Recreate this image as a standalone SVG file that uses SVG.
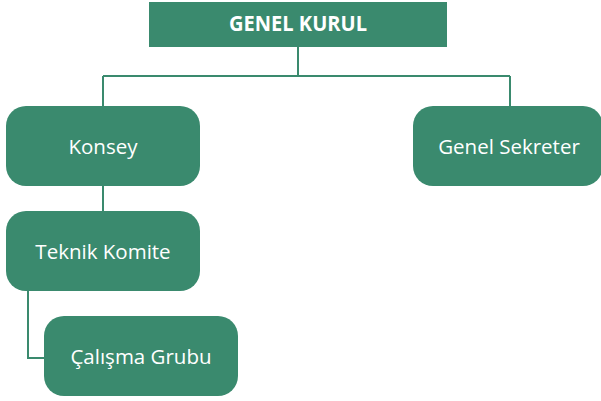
<svg xmlns="http://www.w3.org/2000/svg" width="601" height="401" viewBox="0 0 601 401">
<style>
.box{fill:#3a8a6e}
.lbl{fill:#fff;font-family:"Open Sans","Noto Sans",sans-serif;font-size:20.5px;text-anchor:middle;dominant-baseline:central}
.hdr{font-weight:bold;font-size:22px}
.conn{fill:none;stroke:#3a8a6e;stroke-width:2}
</style>
<rect width="601" height="401" fill="#fff"/>
<g id="connectors">
<path class="conn" d="M298,47 V76 M103,76 H510 M103,76 V106 M510,76 V106 M103,186 V211 M28,291 V358 H44"/>
</g>
<g id="genel-kurul">
<rect class="box" x="149" y="2" width="298" height="45"/>
<text class="lbl hdr" x="298" y="22" textLength="138" lengthAdjust="spacingAndGlyphs">GENEL KURUL</text>
</g>
<g id="konsey">
<rect class="box" x="6" y="106" width="194" height="80" rx="20"/>
<text class="lbl" x="103" y="146">Konsey</text>
</g>
<g id="genel-sekreter">
<rect class="box" x="413" y="106" width="190" height="80" rx="20"/>
<text class="lbl" x="509" y="146">Genel Sekreter</text>
</g>
<g id="teknik-komite">
<rect class="box" x="6" y="211" width="194" height="80" rx="20"/>
<text class="lbl" x="103" y="251">Teknik Komite</text>
</g>
<g id="calisma-grubu">
<rect class="box" x="44" y="316" width="194" height="80" rx="20"/>
<text class="lbl" x="141" y="356">Çalışma Grubu</text>
</g>
</svg>
